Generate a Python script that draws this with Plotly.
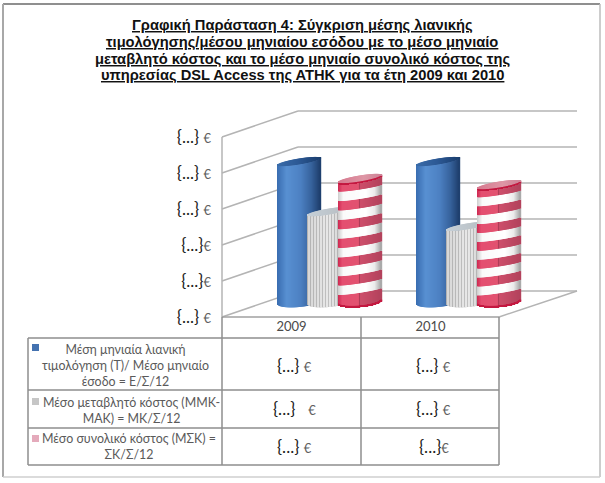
import math
import plotly.graph_objects as go

# ---------- data ----------
years = ["2009", "2010"]
blue_name = "Μέση μηνιαία λιανική<br>τιμολόγηση (Τ)/ Μέσο μηνιαίο<br>έσοδο = Ε/Σ/12"
grey_name = "Μέσο μεταβλητό κόστος (ΜΜΚ-<br>ΜΑΚ) = ΜΚ/Σ/12"
pink_name = "Μέσο συνολικό κόστος (ΜΣΚ) =<br>ΣΚ/Σ/12"
blue_values = [3.86, 3.86]
grey_values = [2.47, 2.06]
pink_values = [3.39, 3.22]
axis_ticks = [0, 1, 2, 3, 4, 5]
axis_labels = ["{...} €", "{...}€", "{...}€", "{...} €", "{...} €", "{...} €"]
table_blue = ["{...} €", "{...} €"]
table_grey = ["{...}   €", "{...} €"]
table_pink = ["{...} €", "{...}€"]
title_lines = [
    "Γραφική Παράσταση 4: Σύγκριση μέσης λιανικής",
    "τιμολόγησης/μέσου μηνιαίου εσόδου με το μέσο μηνιαίο",
    "μεταβλητό κόστος και το μέσο μηνιαίο συνολικό κόστος της",
    "υπηρεσίας DSL Access της ΑΤΗΚ για τα έτη 2009 και 2010",
]

# ---------- geometry / styling ----------
W, H = 605, 483
PX_X, PX_Y = 139.0, 36.0      # pixels per category / per value unit
X0_PX, Y0_PX = 330.0, 304.0   # where category 0 / value 0 fall
def fx(p): return p / W
def fy(p): return 1 - p / H

BAR_W = 43 / PX_X
N = 43
T_BASE, B_BASE = 2.0 / PX_Y, 5.0 / PX_Y
T_TOP, B_TOP = 3.5 / PX_Y, 3.0 / PX_Y
T_BAND, B_BAND = 3.3 / PX_Y, 1.5 / PX_Y

def mix(stops, u):
    for (a, ca), (b, cb) in zip(stops, stops[1:]):
        if a <= u <= b:
            f = (u - a) / (b - a) if b > a else 0
            c = [round(ca[i] + (cb[i] - ca[i]) * f) for i in range(3)]
            return f"rgb({c[0]},{c[1]},{c[2]})"
    c = stops[-1][1]
    return f"rgb({c[0]},{c[1]},{c[2]})"

BLUE = [(-1, (56, 108, 176)), (-0.55, (88, 144, 210)), (0.1, (76, 128, 194)), (0.6, (54, 98, 156)), (1, (30, 62, 108))]
BLUE_TOP = [(-1, (58, 108, 170)), (0, (44, 88, 148)), (1, (26, 62, 110))]
PINK = [(-1, (205, 40, 80)), (-0.8, (228, 78, 112)), (-0.05, (226, 82, 112)), (0.0, (175, 60, 88)), (0.05, (205, 78, 106)), (1, (178, 66, 92))]
WHITE = [(-1, (205, 205, 205)), (-0.75, (250, 250, 250)), (0.3, (255, 255, 255)), (0.7, (235, 235, 235)), (1, (165, 165, 165))]
PINK_TOP = [(-1, (214, 120, 142)), (0.2, (222, 150, 165)), (1, (205, 130, 150))]
GREY_TOP = [(-1, (198, 208, 216)), (1, (182, 188, 192))]
GREY_A = [(-1, (178, 178, 178)), (0, (192, 192, 192)), (1, (165, 165, 165))]
GREY_B = [(-1, (214, 214, 214)), (0, (232, 232, 232)), (1, (200, 200, 200))]

def edge(u, v, frac, side=-1):
    """Height of the elliptical edge of a cylinder at position u across it."""
    t, b = (T_BASE + (T_TOP - T_BASE) * frac, B_BASE + (B_TOP - B_BASE) * frac)
    return v * frac + t * (u + 1) + side * b * math.sqrt(max(0, 1 - u * u))

def band_edge(u, v, frac):
    """Stripe boundaries on the cylinder body are flatter than its rims."""
    return v * frac + T_BAND * (u + 1) - B_BAND * math.sqrt(max(0, 1 - u * u))

def cylinder(values, offset, body, top, bands=None):
    xs, bases, heights, colors = [], [], [], []
    def add(x, lo, hi, c):
        xs.append(x); bases.append(lo); heights.append(hi - lo); colors.append(c)
    for cat, v in enumerate(values):
        for i in range(N):
            u = -1 + 2 * (i + 0.5) / N
            x = cat + offset + BAR_W * (i + 0.5) / N
            lo, hi = edge(u, v, 0), edge(u, v, 1)
            if bands is None:
                add(x, lo, hi, body(u, i))
            else:
                for k in range(bands):
                    a = lo if k == 0 else band_edge(u, v, k / bands)
                    b = hi if k == bands - 1 else band_edge(u, v, (k + 1) / bands)
                    add(x, a, b, mix(PINK, u) if k % 2 == 0 else mix(WHITE, u))
                # dark crimson rims along the front edges
                add(x, lo, lo + 1.5 / PX_Y, "rgb(196,24,64)")
                add(x, hi - 1.2 / PX_Y, hi, "rgb(196,24,64)")
            add(x, edge(u, v, 1, -1), edge(u, v, 1, 1), mix(top, u))
    return xs, bases, heights, colors

def bar_trace(name, data):
    xs, bases, heights, colors = data
    return go.Bar(name=name, x=xs, y=heights, base=bases, width=1.4 / PX_X,
                  marker=dict(color=colors, line=dict(width=0)), showlegend=False,
                  hoverinfo="skip")

fig = go.Figure()
fig.add_trace(bar_trace("Τ", cylinder(blue_values, -52 / PX_X, lambda u, i: mix(BLUE, u), BLUE_TOP)))
fig.add_trace(bar_trace("ΜΜΚ", cylinder(grey_values, -22 / PX_X,
                                        lambda u, i: mix(GREY_A if i % 3 == 0 else GREY_B, u), GREY_TOP)))
fig.add_trace(bar_trace("ΜΣΚ", cylinder(pink_values, 9 / PX_X, None, PINK_TOP, bands=13)))
# carrier for the front-plane axes (year labels, value labels)
fig.add_trace(go.Scatter(x=years, y=axis_ticks[:2], xaxis="x2", yaxis="y2", mode="none",
                         showlegend=False, hoverinfo="skip"))

# ---------- frame, walls, table ----------
shapes = []
def line(x0, y0, x1, y1, color="#a6a6a6", width=1.5):
    shapes.append(dict(type="line", xref="paper", yref="paper", layer="below",
                       x0=fx(x0), y0=fy(y0), x1=fx(x1), y1=fy(y1),
                       line=dict(color=color, width=width)))

line(3, 4, 600, 4, "#8f8f8f", 2)
line(3, 4, 3, 477, "#a8a8a8", 2)
line(600, 4, 600, 477, "#bdbdbd", 1.5)
line(3, 477, 600, 477, "#cfcfcf", 1.5)

for t in axis_ticks:
    front, back = 317 - 36 * t, 291 - 36 * t
    line(222, front, 298, back, "#b4b4b4")
    line(298, back, 577, back, "#b4b4b4")
line(222, 137, 222, 317, "#b4b4b4")
line(499, 317, 577, 291, "#b4b4b4")
line(222, 317, 499, 317, "#a0a0a0")

GRID = "#8e8e8e"
for yy in (338, 390, 428, 465):
    line(28, yy, 499, yy, GRID)
line(28, 338, 28, 465, GRID)
line(222, 317, 222, 465, GRID)
line(361, 317, 361, 465, GRID)
line(499, 317, 499, 465, GRID)

for (y0, y1, c) in ((344, 351, "#4472b0"), (398, 405, "#c6c6c6"), (435, 442, "#e4aabb")):
    shapes.append(dict(type="rect", xref="paper", yref="paper", layer="below",
                       x0=fx(32), x1=fx(39), y0=fy(y0), y1=fy(y1),
                       fillcolor=c, line=dict(width=0)))

# ---------- text ----------
SANS = "Lato, 'Open Sans', sans-serif"
def label(text, x, y, color="#5a5a5a", size=12.4):
    return dict(text=text, xref="paper", yref="paper", x=fx(x), y=fy(y), xanchor="center",
                yanchor="middle", align="center", showarrow=False,
                font=dict(family=SANS, size=size, color=color))

def euro(s):
    return s.replace("€", '<span style="color:#5f5f5f;font-size:13px">€</span>')

annotations = [
    label(blue_name, 125, 365),
    label(grey_name, 131, 410),
    label(pink_name, 129, 446.5),
]
for col_x, rows in ((294.5, (table_blue[0], table_grey[0], table_pink[0])),
                    (433.5, (table_blue[1], table_grey[1], table_pink[1]))):
    for yy, txt in zip((365, 408, 446), rows):
        annotations.append(label(euro(txt), col_x, yy, color="#222222", size=17))

for yy, txt in zip((25, 42, 59, 75.5), title_lines):
    annotations.append(dict(text=f"<u>{txt}</u>", xref="paper", yref="paper", x=fx(302), y=fy(yy),
                            xanchor="center", yanchor="middle", showarrow=False,
                            font=dict(family="'Liberation Sans', Arial, sans-serif", size=14.7,
                                      color="#111111", weight="bold")))

fig.update_layout(
    width=W, height=H, margin=dict(l=0, r=0, t=0, b=0), autosize=False,
    paper_bgcolor="white", plot_bgcolor="rgba(0,0,0,0)",
    barmode="overlay", hovermode=False, showlegend=False,
    xaxis=dict(range=[-X0_PX / PX_X, (W - X0_PX) / PX_X], domain=[0, 1], visible=False, fixedrange=True),
    yaxis=dict(range=[(Y0_PX - H) / PX_Y, Y0_PX / PX_Y], domain=[0, 1], visible=False, fixedrange=True),
    xaxis2=dict(type="category", overlaying="x", anchor="free", position=1 - 317 / H, side="bottom",
                range=[(0 - 291.5) / 139, (W - 291.5) / 139], showgrid=False, zeroline=False,
                showline=False, ticks="", ticklabelstandoff=0, fixedrange=True,
                tickfont=dict(family=SANS, size=13, color="#4a4a4a")),
    yaxis2=dict(overlaying="y", anchor="free", position=fx(211), side="left",
                range=[(317 - H) / 36, 317 / 36], tickmode="array", tickvals=axis_ticks,
                ticktext=[euro(t) for t in axis_labels], showgrid=False, zeroline=False,
                showline=False, ticks="", fixedrange=True,
                tickfont=dict(family=SANS, size=17, color="#222222")),
    shapes=shapes, annotations=annotations,
)

fig.write_html("out.html", config={"displayModeBar": False},
               post_script="document.body.style.margin='0';")
